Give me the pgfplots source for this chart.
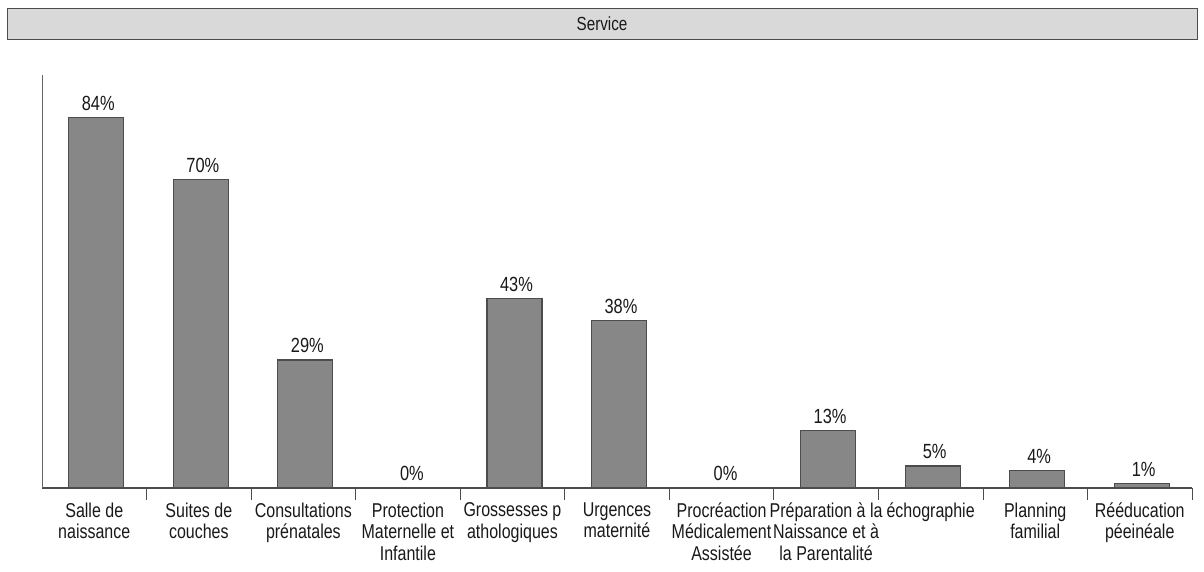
\documentclass[border=0pt]{standalone}
\usepackage{pgfplots}
\pgfplotsset{compat=1.18}
\usepackage{fontspec}
\setmainfont{Liberation Sans}[FakeStretch=0.8]
\begin{document}
\begin{tikzpicture}
\path (-42pt,-83pt) rectangle (1162pt,488pt);
\begin{axis}[
  at={(0pt,0pt)}, anchor=south west,
  scale only axis, width=1150pt, height=413pt,
  xmin=-0.5, xmax=10.5, ymin=0, ymax=93.6,
  axis x line=bottom, axis y line=left,
  x axis line style={-, draw=black!70, line width=1.2pt},
  y axis line style={-, draw=black!60, line width=0.8pt},
  ytick=\empty,
  xtick={0,...,10},
  minor xtick={0.5,1.5,...,10.5},
  tick align=outside,
  major tick length=0pt, minor tick length=12pt,
  minor tick style={draw=black!70, line width=0.8pt},
  /pgf/number format/assume math mode=true,
  xticklabels={Salle de\\naissance, Suites de\\couches, Consultations\\prénatales, Protection\\Maternelle et\\Infantile, Grossesses p\\athologiques, Urgences\\maternité, Procréaction\\Médicalement\\Assistée, Préparation à la\\Naissance et à\\la Parentalité, échographie, Planning\\familial, Rééducation\\péeinéale},
  xticklabel style={align=center, font=\fontsize{20}{21.5}\selectfont, anchor=north, yshift=-11pt, text=black!90},
  ybar, bar width=55pt,
  nodes near coords={\pgfmathprintnumber{\pgfplotspointmeta}\%},
  every node near coord/.append style={font=\fontsize{20.5}{25}\selectfont, yshift=3pt, xshift=2pt, text=black!90},
  clip=false
]
\addplot[fill=black!47, draw=black!70, line width=1.2pt, bar shift=2pt] coordinates {(0,84) (1,70) (2,29) (3,0) (4,43) (5,38) (6,0) (7,13) (8,5) (9,4) (10,1)};
\end{axis}
\node[draw=black!70, line width=0.8pt, fill=black!15, minimum width=1190pt, minimum height=31pt, inner sep=0pt, font=\fontsize{19}{21}\selectfont, text=black!90] at (560pt,464pt) {Service};
\end{tikzpicture}
\end{document}
